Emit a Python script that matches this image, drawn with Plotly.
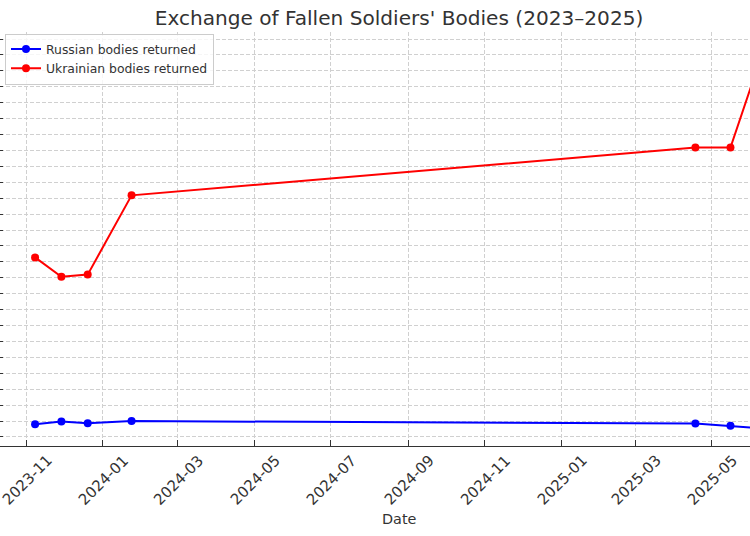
import plotly.graph_objects as go

# Data
dates = ["2023-11-08", "2023-11-29", "2023-12-20", "2024-01-24",
         "2025-04-18", "2025-05-16", "2025-06-11"]
russian_bodies = [40, 49, 43, 50, 42, 35, 27]
ukrainian_bodies = [564, 503, 510, 759, 909, 909, 1212]

tick_dates = ["2023-11-01", "2024-01-01", "2024-03-01", "2024-05-01", "2024-07-01",
              "2024-09-01", "2024-11-01", "2025-01-01", "2025-03-01", "2025-05-01"]
tick_labels = ["2023-11", "2024-01", "2024-03", "2024-05", "2024-07",
               "2024-09", "2024-11", "2025-01", "2025-03", "2025-05"]

x_range = ["2023-10-11", "2025-05-31 14:00"]
y_range = [-28.3, 1272]

W, H = 750, 536
M_T, M_B = 32, 90
PH = H - M_T - M_B

FONT = "DejaVu Sans"
TXT = "#333333"

fig = go.Figure()
fig.add_trace(go.Scatter(
    x=dates, y=russian_bodies, mode="lines+markers",
    name="Russian bodies returned",
    line=dict(color="#0000ff", width=2),
    marker=dict(color="#0000ff", size=8),
))
fig.add_trace(go.Scatter(
    x=dates, y=ukrainian_bodies, mode="lines+markers",
    name="Ukrainian bodies returned",
    line=dict(color="#ff0000", width=2),
    marker=dict(color="#ff0000", size=8),
))

grid = dict(showgrid=True, gridcolor="#d0d0d0", gridwidth=1, griddash="4px,2px")

annotations = [dict(text="Date", x=399 / W, xref="paper", xanchor="center",
                    y=(H - M_B - 519) / PH, yref="paper", yanchor="middle",
                    showarrow=False, font=dict(size=14.4, color=TXT, family=FONT))]
label_y = (H - M_B - 480) / PH
for d, lab in zip(tick_dates, tick_labels):
    annotations.append(dict(text=lab, x=d, xref="x", xanchor="center", xshift=1,
                            y=label_y, yref="paper", yanchor="middle",
                            textangle=-45, showarrow=False,
                            font=dict(size=15, color=TXT, family=FONT)))

fig.update_layout(
    width=W, height=H,
    margin=dict(l=0, r=0, t=M_T, b=M_B, autoexpand=False),
    paper_bgcolor="white", plot_bgcolor="white",
    font=dict(family=FONT, color=TXT),
    title=dict(text="Exchange of Fallen Soldiers' Bodies (2023–2025)",
               x=399 / W, xref="paper", xanchor="center",
               y=1 - 18 / H, yref="container", yanchor="middle",
               font=dict(size=20.1, color=TXT, family=FONT)),
    showlegend=True,
    legend=dict(x=5 / W, y=1 - 1.5 / PH, xanchor="left", yanchor="top",
                bgcolor="rgba(255,255,255,0.8)", bordercolor="#cccccc", borderwidth=1,
                font=dict(size=12.4, color=TXT, family=FONT)),
    xaxis=dict(type="date", range=x_range, tickmode="array", tickvals=tick_dates,
               showticklabels=False,
               ticks="inside", ticklen=6, tickcolor="#333333", tickwidth=1,
               showline=True, linecolor="#333333", linewidth=1.2,
               zeroline=False, automargin=False, **grid),
    yaxis=dict(range=y_range, tick0=0, dtick=50, showticklabels=False,
               ticks="inside", ticklen=3, tickcolor="#333333", tickwidth=1,
               showline=False, zeroline=False, automargin=False, **grid),
    annotations=annotations,
)

fig.write_html("out.html")
